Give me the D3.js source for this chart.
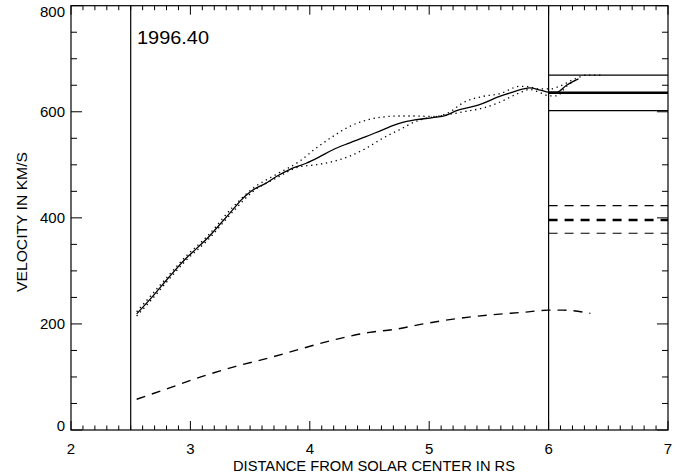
<!DOCTYPE html>
<html><head><meta charset="utf-8">
<script src="https://cdn.jsdelivr.net/npm/d3@7"></script>
<style>body{margin:0;background:#fff}svg{display:block}text{font-family:"Liberation Sans",Arial,sans-serif;fill:#000}</style>
</head><body>
<svg id="c" width="680" height="476"></svg>
<script>
// Data
const solidX = [2.55,2.68,2.82,2.96,3.05,3.14,3.24,3.35,3.44,3.52,3.63,3.72,3.83,3.97,4.08,4.19,4.33,4.47,4.61,4.75,4.89,5.03,5.14,5.23,5.37,5.45,5.59,5.70,5.79,5.84,5.93,6.00,6.07,6.15,6.25];
const solidV = [219,251,288,323,342,361,386,414,437,452,465,478,491,503,515,528,541,553,566,578,585,589,593,602,610,616,629,637,643,645,641,637,637,650,662];
const upperX = [2.55,2.68,2.82,2.96,3.14,3.35,3.52,3.72,3.91,4.05,4.19,4.33,4.47,4.61,4.75,4.89,5.03,5.14,5.31,5.45,5.59,5.76,5.84,5.93,6.01,6.09,6.21,6.32,6.44];
const upperV = [223,256,292,327,365,419,455,482,506,531,553,572,584,590,592,592,591,596,620,629,634,648,647,643,643,648,661,669,669];
const lowerX = [2.55,2.68,2.82,2.96,3.14,3.35,3.52,3.72,3.91,4.05,4.19,4.33,4.47,4.61,4.75,4.89,5.03,5.14,5.31,5.45,5.59,5.76,5.84,5.93,6.01,6.07,6.15,6.23];
const lowerV = [215,247,284,319,357,410,449,475,496,500,506,516,531,550,566,582,590,594,601,607,618,636,642,636,630,630,648,660];
const dashX = [2.55,2.82,3.10,3.38,3.66,3.94,4.22,4.50,4.72,4.95,5.23,5.51,5.79,6.00,6.12,6.35];
const dashV = [58,79,101,120,136,154,171,184,190,200,210,217,222,226,226,220];
const solidRefs = [669,636,602];
const dashRefs = [423,396,371];
const xTicks = [2,3,4,5,6,7];
const yTicks = [0,200,400,600,800];
const vLines = [2.5,6];
const yearLabel = "1996.40";

const svg = d3.select("#c");
const x = d3.scaleLinear().domain([2,7]).range([71,668]);
const y = d3.scaleLinear().domain([0,800]).range([430,5.7]);
const g = svg.append("g");

// frame
g.append("rect").attr("x",x(2)).attr("y",y(800)).attr("width",x(7)-x(2)).attr("height",y(0)-y(800))
 .attr("fill","none").attr("stroke","#000").attr("stroke-width",1.2);

// ticks
const xMinor = d3.range(2,7.0001,0.1);
xMinor.forEach(v=>{
  const major = Math.abs(v-Math.round(v))<1e-6;
  const L = major?9:4.5;
  g.append("line").attr("x1",x(v)).attr("x2",x(v)).attr("y1",y(0)).attr("y2",y(0)-L).attr("stroke","#000");
  g.append("line").attr("x1",x(v)).attr("x2",x(v)).attr("y1",y(800)).attr("y2",y(800)+L).attr("stroke","#000");
});
const yMinor = d3.range(0,800.001,50);
yMinor.forEach(v=>{
  const major = v%200===0;
  const L = major?11:6;
  g.append("line").attr("x1",x(2)).attr("x2",x(2)+L).attr("y1",y(v)).attr("y2",y(v)).attr("stroke","#000");
  g.append("line").attr("x1",x(7)).attr("x2",x(7)-L).attr("y1",y(v)).attr("y2",y(v)).attr("stroke","#000");
});

// tick labels
xTicks.forEach(v=>{
  g.append("text").attr("x",x(v)).attr("y",454).attr("text-anchor","middle").attr("font-size",15).text(v);
});
yTicks.forEach(v=>{
  let cy = y(v);
  if(v===0) cy = y(0)-5;
  if(v===800) cy = y(800)+6;
  g.append("text").attr("x",65).attr("y",cy+5.5).attr("text-anchor","end").attr("font-size",15).text(v);
});

// axis titles
g.append("text").attr("x",374).attr("y",471).attr("text-anchor","middle").attr("font-size",14)
 .attr("textLength",282).attr("lengthAdjust","spacingAndGlyphs").text("DISTANCE FROM SOLAR CENTER IN RS");
g.append("text").attr("transform","translate(27,222) rotate(-90)").attr("text-anchor","middle").attr("font-size",14)
 .attr("textLength",140).attr("lengthAdjust","spacingAndGlyphs").text("VELOCITY IN KM/S");

// vertical lines
vLines.forEach(v=>{
  g.append("line").attr("x1",x(v)).attr("x2",x(v)).attr("y1",y(0)).attr("y2",y(800)).attr("stroke","#000").attr("stroke-width",1.2);
});

// year label
g.append("text").attr("x",137).attr("y",43.5).attr("font-size",18).attr("textLength",72)
 .attr("lengthAdjust","spacingAndGlyphs").text(yearLabel);

// curves
const line = d3.line().x(d=>x(d[0])).y(d=>y(d[1])).curve(d3.curveMonotoneX);
const zip = (a,b)=>a.map((v,i)=>[v,b[i]]);
g.append("path").attr("d",line(zip(upperX,upperV))).attr("fill","none").attr("stroke","#000").attr("stroke-width",1.3).attr("stroke-dasharray","1.3,3.7");
g.append("path").attr("d",line(zip(lowerX,lowerV))).attr("fill","none").attr("stroke","#000").attr("stroke-width",1.3).attr("stroke-dasharray","1.3,3.7");
g.append("path").attr("d",line(zip(solidX,solidV))).attr("fill","none").attr("stroke","#000").attr("stroke-width",1.3);
g.append("path").attr("d",line(zip(dashX,dashV))).attr("fill","none").attr("stroke","#000").attr("stroke-width",1.4).attr("stroke-dasharray","9,7");

// reference lines on right
solidRefs.forEach((v,i)=>{
  g.append("line").attr("x1",x(6)).attr("x2",x(7)).attr("y1",y(v)).attr("y2",y(v)).attr("stroke","#000").attr("stroke-width",i===1?2.4:1.2);
});
dashRefs.forEach((v,i)=>{
  g.append("line").attr("x1",x(6)).attr("x2",x(7)).attr("y1",y(v)).attr("y2",y(v)).attr("stroke","#000").attr("stroke-width",i===1?2.4:1.2).attr("stroke-dasharray","9,7");
});
</script>
</body></html>
